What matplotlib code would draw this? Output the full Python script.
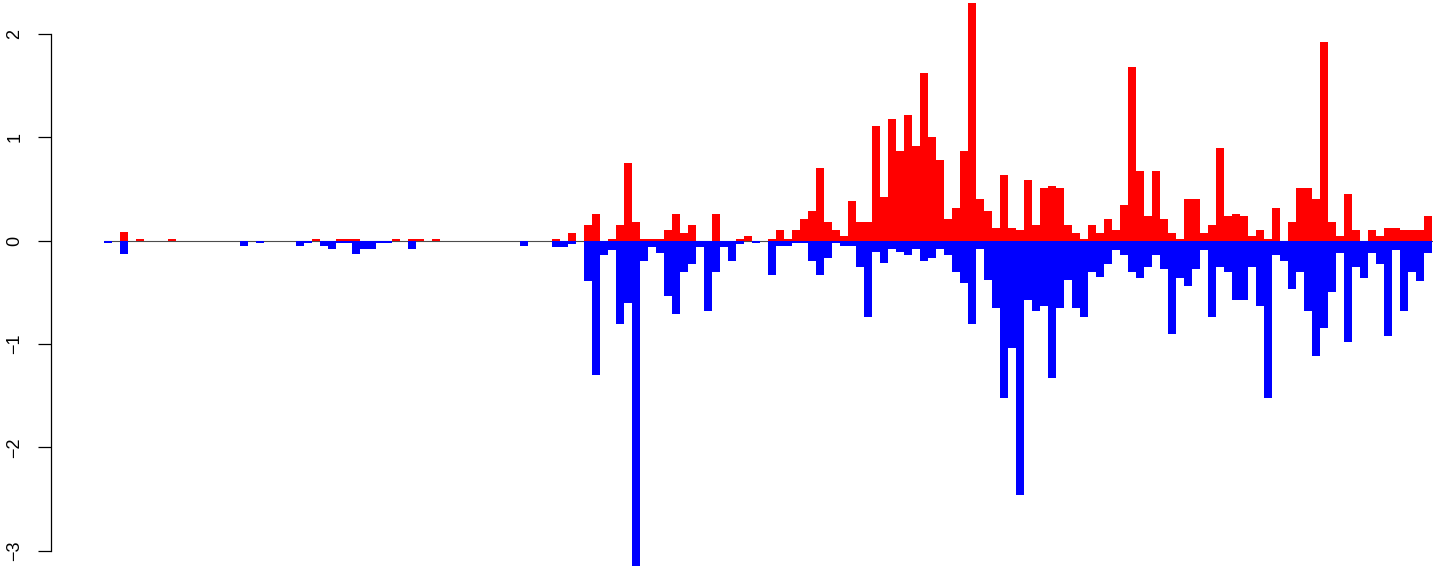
import matplotlib as mpl
mpl.use('Agg')
import matplotlib.pyplot as plt
import numpy as np

plt.rcParams['font.family'] = ['Liberation Sans', 'DejaVu Sans']

# positive (red) and negative (blue) parts, one value per bar
up = [0, 0, 0.08, 0, 0.02, 0, 0, 0, 0.02, 0,
      0, 0, 0, 0, 0, 0, 0, 0, 0, 0,
      0, 0, 0, 0, 0, 0, 0.02, 0, 0, 0.02,
      0.02, 0.02, 0, 0, 0, 0, 0.02, 0, 0.02, 0.02,
      0, 0.02, 0, 0, 0, 0, 0, 0, 0, 0,
      0, 0, 0, 0, 0, 0, 0.02, 0, 0.078, 0,
      0.155, 0.26, 0, 0.02, 0.155, 0.757, 0.184, 0.02, 0.02, 0.02,
      0.107, 0.26, 0.078, 0.155, 0, 0, 0.26, 0, 0, 0.02,
      0.049, 0, 0, 0.02, 0.107, 0.02, 0.107, 0.213, 0.29, 0.70,
      0.184, 0.107, 0.049, 0.38, 0.184, 0.184, 1.107, 0.427, 1.18, 0.864,
      1.213, 0.913, 1.62, 1.0, 0.777, 0.213, 0.32, 0.864, 2.30, 0.40,
      0.29, 0.126, 0.64, 0.126, 0.107, 0.59, 0.155, 0.515, 0.534, 0.515,
      0.155, 0.078, 0.02, 0.155, 0.078, 0.213, 0.107, 0.35, 1.68, 0.67,
      0.243, 0.67, 0.213, 0.078, 0.02, 0.40, 0.40, 0.078, 0.155, 0.893,
      0.243, 0.262, 0.243, 0.049, 0.107, 0.02, 0.32, 0, 0.184, 0.515,
      0.515, 0.40, 1.92, 0.184, 0.049, 0.456, 0.107, 0, 0.107, 0.049,
      0.126, 0.126, 0.107, 0.107, 0.107, 0.243]

down = [-0.025, 0, -0.13, 0, 0, 0, 0, 0, 0, 0,
        0, 0, 0, 0, 0, 0, 0, -0.055, 0, -0.025,
        0, 0, 0, 0, -0.055, -0.025, 0, -0.055, -0.085, -0.025,
        -0.025, -0.13, -0.085, -0.085, -0.025, -0.025, 0, 0, -0.085, 0,
        0, 0, 0, 0, 0, 0, 0, 0, 0, 0,
        0, 0, -0.055, 0, 0, 0, -0.058, -0.058, -0.03, 0,
        -0.39, -1.30, -0.136, -0.087, -0.81, -0.60, -3.15, -0.194, -0.058, -0.116,
        -0.54, -0.705, -0.30, -0.223, -0.058, -0.676, -0.30, -0.058, -0.194, -0.03,
        0, -0.026, 0, -0.33, -0.055, -0.055, -0.026, -0.026, -0.194, -0.33,
        -0.165, -0.026, -0.055, -0.055, -0.25, -0.735, -0.113, -0.22, -0.084, -0.113,
        -0.136, -0.084, -0.194, -0.165, -0.084, -0.136, -0.30, -0.405, -0.81, -0.084,
        -0.385, -0.647, -1.52, -1.04, -2.46, -0.57, -0.676, -0.628, -1.33, -0.647,
        -0.385, -0.647, -0.735, -0.30, -0.356, -0.223, -0.087, -0.136, -0.30, -0.36,
        -0.25, -0.136, -0.272, -0.903, -0.36, -0.44, -0.272, -0.087, -0.74, -0.25,
        -0.30, -0.573, -0.573, -0.25, -0.63, -1.52, -0.136, -0.194, -0.466, -0.30,
        -0.68, -1.117, -0.845, -0.495, -0.116, -0.98, -0.25, -0.36, -0.116, -0.223,
        -0.92, -0.087, -0.68, -0.30, -0.39, -0.116]

yticks = [-3, -2, -1, 0, 1, 2]
ylabels = ['\u22123', '\u22122', '\u22121', '0', '1', '2']

W, H = 1433, 566
fig = plt.figure(figsize=(W / 100, H / 100), dpi=100)
# axes: left edge at the y spine, full height
ax = fig.add_axes([50.5 / W, 0, 1 - 50.5 / W, 1])

n = len(up)
x = np.arange(n)
ax.hlines(0, -0.5, n + 0.5, color='#4d4d4d', lw=0.8, zorder=1)
ax.bar(x, up, width=1.0, color='#ff0000', linewidth=0, zorder=2)
ax.bar(x, down, width=1.0, color='#0000ff', linewidth=0, zorder=2)

# pixel mapping: bar i centred at 108 + 8*i, zero at y=240.7, 103.3 px per unit
ax.set_xlim((50.5 - 108) / 8, (W - 108) / 8)
ax.set_ylim(-(H - 240.7) / 103.3, 240.7 / 103.3)

for s in ['top', 'right', 'bottom']:
    ax.spines[s].set_visible(False)
ax.spines['left'].set_bounds(-3, 2)
ax.spines['left'].set_linewidth(0.9)
ax.set_xticks([])
ax.set_yticks(yticks)
ax.set_yticklabels(ylabels, rotation=90, va='center', fontsize=13)
ax.tick_params(axis='y', length=9.5, width=0.9, pad=10)
ax.patch.set_alpha(0)

fig.savefig('out.png', dpi=100)
